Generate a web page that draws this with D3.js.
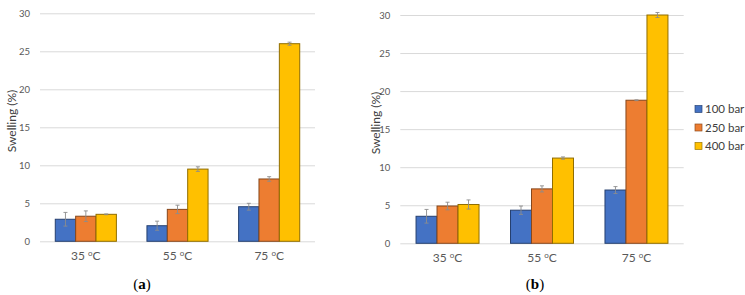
<!DOCTYPE html>
<html>
<head>
<meta charset="utf-8">
<script src="https://cdn.jsdelivr.net/npm/d3@7/dist/d3.min.js"></script>
<style>
  html, body { margin: 0; padding: 0; background: #fff; }
  svg { display: block; font-family: Lato, "Open Sans", "DejaVu Sans", sans-serif; }
</style>
</head>
<body>
<div id="chart"></div>
<script>
'use strict';

// temperatures (categories) and pressures (series)
const categories = ['35', '55', '75'];
const series = ['100 bar', '250 bar', '400 bar'];
const yTicks = [0, 5, 10, 15, 20, 25, 30];

// mean swelling per category, one entry per series
const meanA = [[2.9, 3.3, 3.55], [2.05, 4.2, 9.5], [4.55, 8.2, 26.0]];
const errA  = [[0.9, 0.7, 0.05], [0.6, 0.55, 0.3], [0.45, 0.3, 0.2]];
const meanB = [[3.55, 4.9, 5.1], [4.35, 7.15, 11.2], [7.0, 18.8, 30.0]];
const errB  = [[0.9, 0.5, 0.6], [0.55, 0.4, 0.15], [0.45, 0.05, 0.33]];

const COLORS = ['#4472c4', '#ed7d31', '#ffc000'];
const W = 745, H = 295;

const svg = d3.select('#chart').append('svg')
  .attr('width', W).attr('height', H);

const color = d3.scaleOrdinal().domain(series).range(COLORS);

function drawPanel(opts) {
  const { means, errs, x0, x1, yTop, yBot, tag, tagX, titleX, titleY } = opts;
  const g = svg.append('g');

  const x = d3.scaleBand().domain(categories).range([x0, x1]).padding(0);
  const gap = x.bandwidth() * 1.5 / 4.5;
  const xs = d3.scaleBand().domain(series).range([gap / 2, x.bandwidth() - gap / 2]);
  const y = d3.scaleLinear().domain([0, 30]).range([yBot, yTop]);

  // gridlines + tick labels
  const yAxis = g.append('g')
    .attr('transform', `translate(${x0},0)`)
    .call(d3.axisLeft(y).tickValues(yTicks).tickSize(-(x1 - x0)).tickPadding(10));
  yAxis.select('.domain').remove();
  yAxis.selectAll('.tick line').attr('stroke', '#d9d9d9').attr('stroke-width', 1);
  yAxis.selectAll('.tick text')
    .attr('fill', '#595959')
    .attr('font-size', '9.5px')
    .attr('font-family', 'Lato, sans-serif');

  // bars
  const groups = g.selectAll('.grp')
    .data(categories)
    .join('g')
    .attr('transform', d => `translate(${x(d)},0)`);

  groups.each(function (cat, ci) {
    const grp = d3.select(this);
    const rows = series.map((s, si) => ({ s, v: means[ci][si], e: errs[ci][si] }));

    grp.selectAll('rect')
      .data(rows)
      .join('rect')
      .attr('x', d => xs(d.s))
      .attr('y', d => y(d.v))
      .attr('width', xs.bandwidth())
      .attr('height', d => y(0) - y(d.v))
      .attr('fill', d => color(d.s))
      .attr('stroke', d => d3.color(color(d.s)).darker(1.6))
      .attr('stroke-width', 1);

    // error bars
    const eb = grp.selectAll('.err')
      .data(rows)
      .join('g')
      .attr('class', 'err')
      .attr('stroke', '#8c8c8c')
      .attr('stroke-width', 0.9);
    eb.append('line')
      .attr('x1', d => xs(d.s) + xs.bandwidth() / 2)
      .attr('x2', d => xs(d.s) + xs.bandwidth() / 2)
      .attr('y1', d => y(d.v + d.e))
      .attr('y2', d => y(d.v - d.e));
    [1, -1].forEach(sign => {
      eb.append('line')
        .attr('x1', d => xs(d.s) + xs.bandwidth() / 2 - 2)
        .attr('x2', d => xs(d.s) + xs.bandwidth() / 2 + 2)
        .attr('y1', d => y(d.v + sign * d.e))
        .attr('y2', d => y(d.v + sign * d.e));
    });
  });

  // category labels
  const cl = g.selectAll('.cat')
    .data(categories)
    .join('text')
    .attr('x', d => x(d) + x.bandwidth() / 2)
    .attr('y', yBot + 19)
    .attr('text-anchor', 'middle')
    .attr('fill', '#595959')
    .attr('font-size', '12px');
  cl.append('tspan').text(d => d + ' ');
  cl.append('tspan').attr('font-size', '8px').attr('dy', '-4').text('o');
  cl.append('tspan').attr('dy', '4').text('C');

  // y title
  g.append('text')
    .attr('transform', `translate(${titleX},${titleY}) rotate(-90)`)
    .attr('text-anchor', 'middle')
    .attr('fill', '#404040')
    .attr('font-size', '12px')
    .text('Swelling (%)');

  // panel tag
  const t = g.append('text')
    .attr('x', tagX)
    .attr('y', 289)
    .attr('text-anchor', 'middle')
    .attr('font-family', '"Liberation Serif", "DejaVu Serif", serif')
    .attr('font-size', '15px')
    .attr('fill', '#000');
  t.append('tspan').text('(');
  t.append('tspan').attr('font-weight', 'bold').text(tag);
  t.append('tspan').text(')');
}

drawPanel({ means: meanA, errs: errA, x0: 40, x1: 315, yTop: 13.3, yBot: 241.3,
  tag: 'a', tagX: 142, titleX: 16, titleY: 121 });
drawPanel({ means: meanB, errs: errB, x0: 400.3, x1: 683.7, yTop: 15, yBot: 243.3,
  tag: 'b', tagX: 535, titleX: 380, titleY: 123 });

// legend
const legend = svg.append('g').attr('transform', 'translate(695,109)');
const li = legend.selectAll('g')
  .data(series)
  .join('g')
  .attr('transform', (d, i) => `translate(0,${i * 18.5})`);
li.append('rect')
  .attr('x', 0).attr('y', -3.5)
  .attr('width', 7).attr('height', 7)
  .attr('fill', d => color(d))
  .attr('stroke', d => d3.color(color(d)).darker(1.4))
  .attr('stroke-width', 0.7);
li.append('text')
  .attr('x', 10).attr('y', 4)
  .attr('fill', '#404040')
  .attr('font-size', '11.5px')
  .text(d => d);
</script>
</body>
</html>
